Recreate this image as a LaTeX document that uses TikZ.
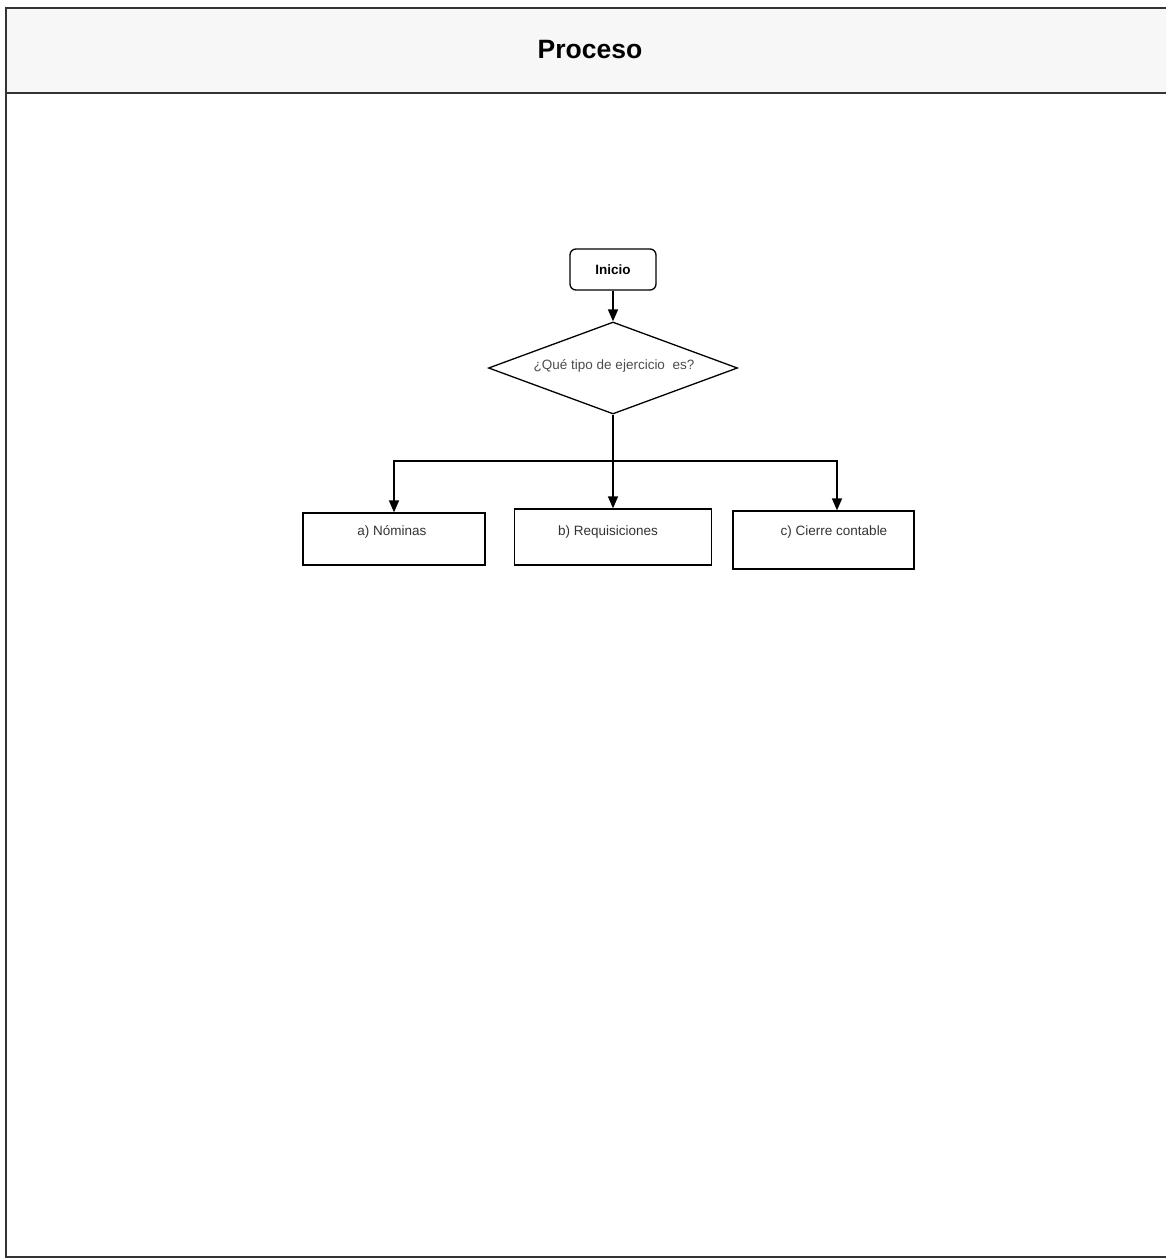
\documentclass[tikz,border=0pt]{standalone}
\usepackage{fontspec}
\setmainfont{Liberation Sans}
\usetikzlibrary{arrows.meta,shapes.geometric}
\definecolor{hdr}{HTML}{F7F7F7}
\definecolor{frm}{HTML}{333333}
\definecolor{txt}{HTML}{333333}
\begin{document}
\begin{tikzpicture}[x=1pt,y=-1pt,
  boxstyle/.style={draw=black,line width=1.3pt,rectangle,inner sep=0pt},
  lbl/.style={font=\fontsize{13.5}{16}\selectfont,text=txt,inner sep=0pt},
  conn/.style={line width=1.6pt,-{Triangle[length=12pt,width=10pt]}},
  plain/.style={line width=1.6pt}]
\useasboundingbox (0,0) rectangle (1166,1258);
% frame
\fill[hdr] (6,8) rectangle (1170,93);
\draw[frm,line width=2pt] (1170,8) -- (6,8) -- (6,1257) -- (1170,1257);
\draw[frm,line width=2pt] (6,93) -- (1170,93);
\node (title) at (590,50) {\fontsize{26.5}{30}\selectfont\bfseries Proceso};
% nodes
\node[boxstyle,rounded corners=6pt,minimum width=86pt,minimum height=41pt,font=\fontsize{13.5}{16}\selectfont\bfseries] (ini) at (613,269.5) {Inicio};
\node[diamond,draw=black,line width=1.3pt,minimum width=249pt,minimum height=92pt,aspect=2.7,inner sep=0pt] (dec) at (613,368) {};
\node[lbl,text=black!70] (dect) at (614,366) {¿Qué tipo de ejercicio\ \ es?};
\node[boxstyle,minimum width=182pt,minimum height=52pt] (a) at (394,539) {};
\node[boxstyle,minimum width=197pt,minimum height=56pt] (b) at (613,537) {};
\node[boxstyle,minimum width=181pt,minimum height=58pt] (c) at (823.5,540) {};
\node[lbl] (at) at (392,532) {a) Nóminas};
\node[lbl] (bt) at (608,532) {b) Requisiciones};
\node[lbl] (ct) at (834,532) {c) Cierre contable};
\coordinate (split) at (613,461);
% connectors
\draw[conn] (ini.south) -- (dec.north);
\draw[plain] (dec.south) -- (split);
\draw[conn] (split) -- (b.north);
\draw[conn] (split) -| (a.north);
\draw[conn] (split) -| ([xshift=13.5pt]c.north);
\end{tikzpicture}
\end{document}
